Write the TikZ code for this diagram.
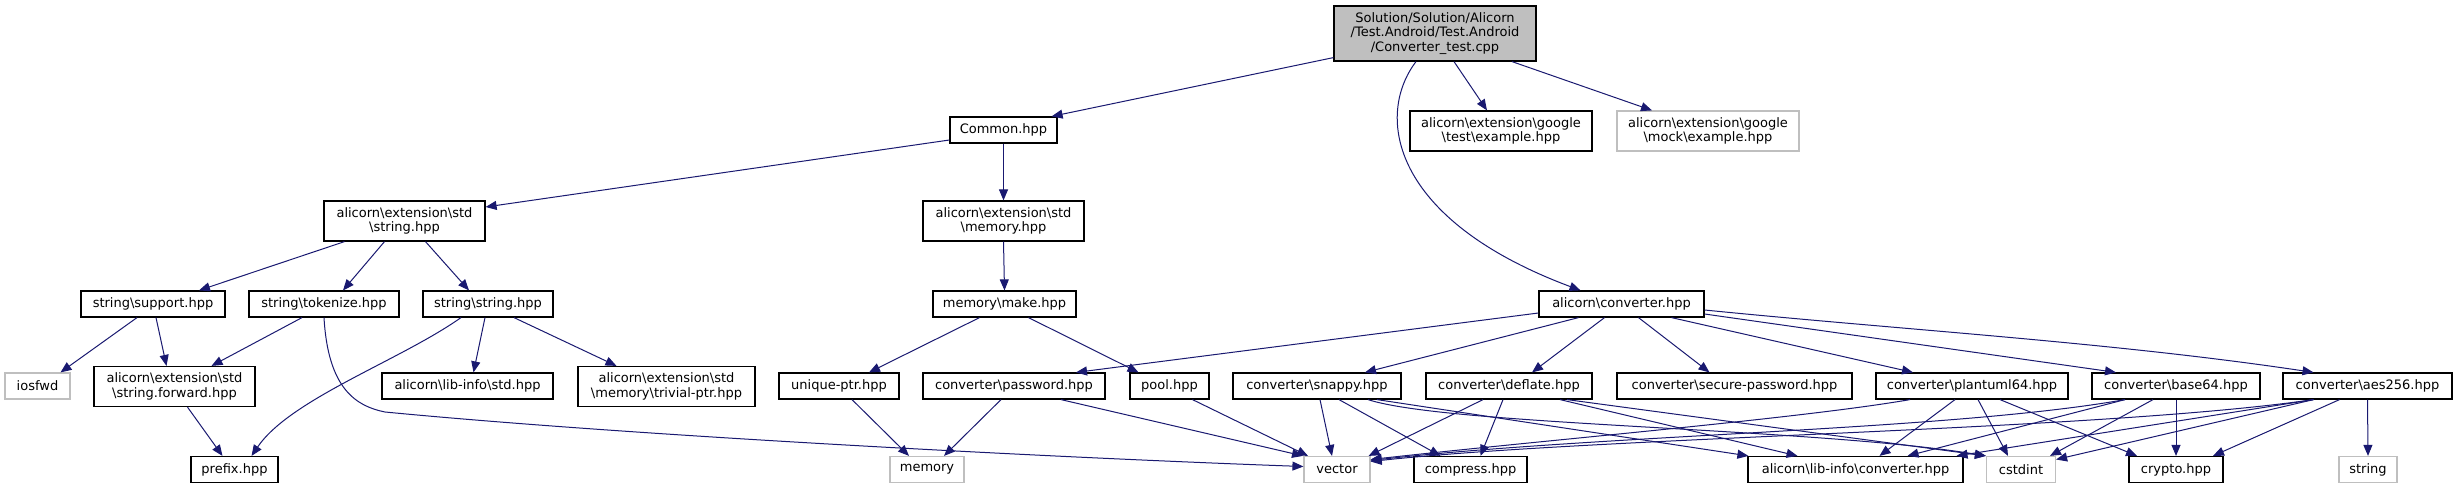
\documentclass[tikz,border=0pt]{standalone}
\usepackage{fontspec}
\setmainfont{DejaVu Sans}
\usetikzlibrary{arrows.meta}
\definecolor{edgeblue}{RGB}{25,25,112}
\definecolor{sysgray}{RGB}{191,191,191}
\newcommand{\bs}{\textbackslash}

\begin{document}
\begin{tikzpicture}[x=1pt, y=-1pt,
    file/.style={draw=black, line width=1.2pt, fill=white, inner sep=0pt,
      align=center, minimum height=26pt, font=\fontsize{13}{14.5}\selectfont},
    sysfile/.style={file, draw=sysgray},
    dep/.style={draw=edgeblue, line width=1pt, -{Triangle[length=11pt,width=9pt]}}]
  \useasboundingbox (0,0) rectangle (2457,488);

  \node[file, fill=sysgray, minimum width=202pt, minimum height=55pt] (root) at (1435,33.5)
    {Solution/Solution/Alicorn\\/Test.Android/Test.Android\\/Converter\_test.cpp};

  \node[file, minimum width=107pt] (common) at (1003.5,130) {Common.hpp};
  \node[file, minimum width=182pt, minimum height=40pt] (gtest) at (1501,131)
    {alicorn\bs extension\bs google\\\bs test\bs example.hpp};
  \node[sysfile, minimum width=182pt, minimum height=40pt] (gmock) at (1708,131)
    {alicorn\bs extension\bs google\\\bs mock\bs example.hpp};

  \node[file, minimum width=161pt, minimum height=40pt] (extstring) at (404.5,221)
    {alicorn\bs extension\bs std\\\bs string.hpp};
  \node[file, minimum width=161pt, minimum height=40pt] (extmemory) at (1003.5,221)
    {alicorn\bs extension\bs std\\\bs memory.hpp};

  \node[file, minimum width=144pt] (support) at (153,304) {string\bs support.hpp};
  \node[file, minimum width=150pt] (tokenize) at (324,304) {string\bs tokenize.hpp};
  \node[file, minimum width=130pt] (strstring) at (488,304) {string\bs string.hpp};
  \node[file, minimum width=143pt] (make) at (1004.5,304) {memory\bs make.hpp};
  \node[file, minimum width=165pt] (converter) at (1621.5,304) {alicorn\bs converter.hpp};

  \node[sysfile, minimum width=65pt] (iosfwd) at (37.5,386) {iosfwd};
  \node[file, minimum width=161pt, minimum height=40pt] (strforward) at (174.5,386.5)
    {alicorn\bs extension\bs std\\\bs string.forward.hpp};
  \node[file, minimum width=171pt] (libstd) at (467.5,386) {alicorn\bs lib-info\bs std.hpp};
  \node[file, minimum width=177pt, minimum height=40pt] (trivial) at (666.5,386.5)
    {alicorn\bs extension\bs std\\\bs memory\bs trivial-ptr.hpp};
  \node[file, minimum width=120pt] (uniqueptr) at (839,386) {unique-ptr.hpp};
  \node[file, minimum width=182pt] (password) at (1014,386) {converter\bs password.hpp};
  \node[file, minimum width=79pt] (pool) at (1169.5,386) {pool.hpp};
  \node[file, minimum width=168pt] (snappy) at (1317,386) {converter\bs snappy.hpp};
  \node[file, minimum width=166pt] (deflate) at (1509,386) {converter\bs deflate.hpp};
  \node[file, minimum width=235pt] (securepw) at (1734.5,386) {converter\bs secure-password.hpp};
  \node[file, minimum width=192pt] (plantuml) at (1972,386) {converter\bs plantuml64.hpp};
  \node[file, minimum width=168pt] (base64) at (2176,386) {converter\bs base64.hpp};
  \node[file, minimum width=169pt] (aes256) at (2367.5,386) {converter\bs aes256.hpp};

  \node[file, minimum width=87pt] (prefix) at (234.5,469.5) {prefix.hpp};
  \node[sysfile, minimum width=74pt] (memory) at (927,469.5) {memory};
  \node[sysfile, minimum width=66pt] (vector) at (1337,469.5) {vector};
  \node[file, minimum width=113pt] (compress) at (1470.5,469.5) {compress.hpp};
  \node[file, minimum width=215pt] (libconv) at (1855.5,469.5) {alicorn\bs lib-info\bs converter.hpp};
  \node[sysfile, minimum width=69pt] (cstdint) at (2021,469.5) {cstdint};
  \node[file, minimum width=94pt] (crypto) at (2176,469.5) {crypto.hpp};
  \node[sysfile, minimum width=58pt] (string) at (2368,469.5) {string};

  \draw[dep] ([yshift=4pt]root.south west) -- ([xshift=-6pt]common.north east);
  \draw[dep] ([xshift=19pt]root.south) -- ([xshift=-14pt]gtest.north);
  \draw[dep] ([xshift=77pt]root.south) -- ([xshift=-56pt]gmock.north);
  \draw[dep] ([xshift=-19pt]root.south) .. controls +(-41,54) and +(-190,-71) .. ([xshift=-41pt]converter.north);

  \draw[dep] ([yshift=-10pt]common.west) -- ([yshift=14pt]extstring.east);
  \draw[dep] (common.south) -- (extmemory.north);

  \draw[dep] ([xshift=-60pt]extstring.south) -- ([xshift=46pt]support.north);
  \draw[dep] ([xshift=-20pt]extstring.south) -- ([xshift=19pt]tokenize.north);
  \draw[dep] ([xshift=21pt]extstring.south) -- ([xshift=-19pt]strstring.north);

  \draw[dep] ([xshift=-16pt]support.south) -- ([xshift=23pt]iosfwd.north);
  \draw[dep] ([xshift=3pt]support.south) -- ([xshift=-8pt]strforward.north);
  \draw[dep] ([xshift=-22pt]tokenize.south) -- ([xshift=37pt]strforward.north);
  \draw[dep] (tokenize.south) .. controls +(4,70) and +(-30,-6) .. (385,412)
    .. controls +(250,24) and +(-250,-9) .. ([yshift=3pt]vector.west);
  \draw[dep] ([xshift=-27pt]strstring.south) .. controls +(-61,43) and +(39,-57) .. ([xshift=17pt]prefix.north);
  \draw[dep] ([xshift=-3pt]strstring.south) -- ([xshift=6pt]libstd.north);
  \draw[dep] ([xshift=26pt]strstring.south) -- ([xshift=-50pt]trivial.north);
  \draw[dep] ([xshift=13pt]strforward.south) -- ([xshift=-12pt]prefix.north);

  \draw[dep] (extmemory.south) -- (make.north);
  \draw[dep] ([xshift=-25pt]make.south) -- ([xshift=30pt]uniqueptr.north);
  \draw[dep] ([xshift=24pt]make.south) -- ([xshift=-31pt]pool.north);
  \draw[dep] ([xshift=13pt]uniqueptr.south) -- ([xshift=-18pt]memory.north);
  \draw[dep] ([xshift=-13pt]password.south) -- ([xshift=17pt]memory.north);
  \draw[dep] ([xshift=47pt]password.south) -- ([xshift=-34pt]vector.north);
  \draw[dep] ([xshift=23pt]pool.south) -- ([xshift=-29pt]vector.north);

  \draw[dep] ([yshift=-9pt]converter.west) -- ([xshift=62pt]password.north);
  \draw[dep] ([xshift=-43pt]converter.south) -- ([xshift=48pt]snappy.north);
  \draw[dep] ([xshift=-17pt]converter.south) -- ([xshift=23pt]deflate.north);
  \draw[dep] ([xshift=17pt]converter.south) -- ([xshift=-25pt]securepw.north);
  \draw[dep] ([xshift=50pt]converter.south) -- ([xshift=-59pt]plantuml.north);
  \draw[dep] ([yshift=-10pt]converter.east) -- ([xshift=-60pt]base64.north);
  \draw[dep] ([yshift=-6pt]converter.east) .. controls +(200,20) and +(-200,-30) .. ([xshift=-54pt]aes256.north);

  \draw[dep] ([xshift=3pt]snappy.south) -- ([xshift=-5pt]vector.north);
  \draw[dep] ([xshift=22pt]snappy.south) -- ([xshift=-30pt]compress.north);
  \draw[dep] ([xshift=60pt]snappy.south) -- ([xshift=1pt]libconv.north west);
  \draw[dep] ([xshift=51pt]snappy.south) .. controls +(80,26) and +(-170,-28) .. (cstdint.north west);

  \draw[dep] ([xshift=-26pt]deflate.south) -- ([xshift=-2pt]vector.north east);
  \draw[dep] ([xshift=-6pt]deflate.south) -- ([xshift=10pt]compress.north);
  \draw[dep] ([xshift=51pt]deflate.south) -- ([xshift=-58pt]libconv.north);
  \draw[dep] ([xshift=58pt]deflate.south) -- (cstdint.north west);

  \draw[dep] ([xshift=-62pt]plantuml.south) .. controls +(-110,19) and +(180,-20) .. ([yshift=10pt]vector.east);
  \draw[dep] ([xshift=-17pt]plantuml.south) -- ([xshift=24pt]libconv.north);
  \draw[dep] ([xshift=6pt]plantuml.south) -- ([xshift=-13pt]cstdint.north);
  \draw[dep] ([xshift=28pt]plantuml.south) -- ([xshift=-39pt]crypto.north);

  \draw[dep] ([xshift=-51pt]base64.south) .. controls +(-175,31) and +(230,-26) .. ([yshift=9pt]vector.east);
  \draw[dep] ([xshift=-51pt]base64.south) -- ([xshift=52pt]libconv.north);
  \draw[dep] ([xshift=-23pt]base64.south) -- ([xshift=29pt]cstdint.north);
  \draw[dep] (base64.south) -- (crypto.north);

  \draw[dep] ([xshift=-54pt]aes256.south) .. controls +(-213,31) and +(230,-25) .. ([yshift=8pt]vector.east);
  \draw[dep] ([xshift=-54pt]aes256.south) -- ([xshift=101pt]libconv.north);
  \draw[dep] ([xshift=-54pt]aes256.south) -- ([yshift=10pt]cstdint.east);
  \draw[dep] ([xshift=-28pt]aes256.south) -- ([xshift=37pt]crypto.north);
  \draw[dep] (aes256.south) -- (string.north);
\end{tikzpicture}
\end{document}
